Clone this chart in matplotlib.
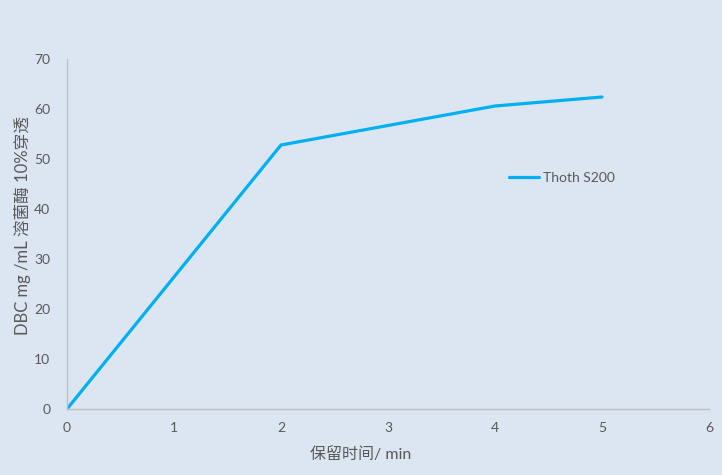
import matplotlib
matplotlib.use("Agg")
import matplotlib.pyplot as plt

# data
times = [0, 2, 4, 5]
dbc = [0, 52.8, 60.6, 62.4]
series_name = "Thoth S200"
x_ticks = [0, 1, 2, 3, 4, 5, 6]
y_ticks = [0, 10, 20, 30, 40, 50, 60, 70]

bg = "#DCE6F2"
text_col = "#595959"
line_col = "#00B0F0"
fonts = ["Lato", "Noto Sans CJK SC", "DejaVu Sans"]

plt.rcParams["font.family"] = fonts

fig = plt.figure(figsize=(7.22, 4.75), dpi=100, facecolor=bg)
ax = fig.add_axes([67 / 722, 1 - 409 / 475, (709 - 67) / 722, (409 - 59) / 475])
ax.set_facecolor(bg)

ax.plot(times, dbc, color=line_col, linewidth=2.3, label=series_name,
        solid_capstyle="round", solid_joinstyle="miter")

ax.set_xlim(0, 6)
ax.set_ylim(0, 70)
ax.set_xticks(x_ticks)
ax.set_yticks(y_ticks)
ax.tick_params(length=0, labelsize=10, colors=text_col, pad=9)
ax.tick_params(axis="y", pad=12)

for side in ("top", "right"):
    ax.spines[side].set_visible(False)
for side in ("left", "bottom"):
    ax.spines[side].set_color("#BFBFBF")
    ax.spines[side].set_linewidth(1)

ax.set_xlabel("保留时间/ min", fontsize=11.5, color=text_col)
ax.set_ylabel("DBC mg /mL 溶菌酶 10%穿透", fontsize=12, color=text_col)
ax.xaxis.set_label_coords(0.458, -0.129)
ax.yaxis.set_label_coords(-0.070, 0.523)
ax.xaxis.label.set_va("center")
ax.yaxis.label.set_va("center")

ax.legend(loc="center left", bbox_to_anchor=(496 / 722, 1 - 178 / 475),
          bbox_transform=fig.transFigure, frameon=False, fontsize=10,
          labelcolor=text_col, handlelength=2.2, handletextpad=0.3)

fig.savefig("out.png", dpi=100, facecolor=bg)
